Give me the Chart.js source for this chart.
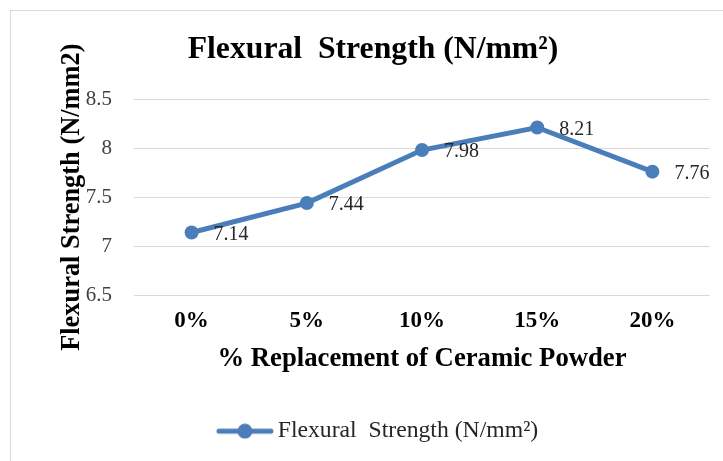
<!DOCTYPE html>
<html><head><meta charset="utf-8">
<script src="https://cdn.jsdelivr.net/npm/chart.js@4/dist/chart.umd.min.js"></script>
<style>
html,body{margin:0;padding:0;background:#fff;}
#wrap{position:relative;width:723px;height:461px;overflow:hidden;}
#frame{position:absolute;left:10px;top:10px;width:760px;height:500px;border:1px solid #d9d9d9;box-sizing:border-box;}
canvas{position:absolute;left:0;top:0;}
</style></head>
<body><div id="wrap"><div id="frame"></div><canvas id="c" width="723" height="461"></canvas></div>
<script>
const categories = ['0%', '5%', '10%', '15%', '20%'];
const strengthValues = [7.14, 7.44, 7.98, 8.21, 7.76];
const yTicks = [6.5, 7, 7.5, 8, 8.5];
const chartTitle = 'Flexural  Strength (N/mm²)';
const seriesName = 'Flexural  Strength (N/mm²)';
const xTitle = '% Replacement of Ceramic Powder';
const yTitle = 'Flexural Strength (N/mm2)';

const BLUE = '#4a7ebb';
const SERIF = '"Liberation Serif", "Times New Roman", serif';

// legend marker: line with a dot (drawn in the right part of a wider image)
const mk = document.createElement('canvas');
mk.width = 76; mk.height = 16;
(function(){
  const g = mk.getContext('2d');
  g.strokeStyle = BLUE; g.lineWidth = 5; g.lineCap = 'round';
  g.beginPath(); g.moveTo(20,8); g.lineTo(72,8); g.stroke();
  g.fillStyle = BLUE; g.beginPath(); g.arc(46,8,7.5,0,Math.PI*2); g.fill();
})();

const dataLabels = {
  id: 'dataLabels',
  afterDatasetsDraw(chart) {
    const ctx = chart.ctx;
    const meta = chart.getDatasetMeta(0);
    ctx.save();
    ctx.font = '20px ' + SERIF;
    ctx.fillStyle = '#262626';
    ctx.textAlign = 'left';
    ctx.textBaseline = 'middle';
    meta.data.forEach((pt, i) => {
      ctx.fillText(String(chart.data.datasets[0].data[i]), pt.x + 22, pt.y + 2);
    });
    ctx.restore();
  }
};

new Chart(document.getElementById('c'), {
  type: 'line',
  data: {
    labels: categories,
    datasets: [{
      label: seriesName,
      data: strengthValues,
      borderColor: BLUE,
      backgroundColor: BLUE,
      borderWidth: 5,
      pointRadius: 7,
      pointHoverRadius: 7,
      pointBackgroundColor: BLUE,
      pointBorderWidth: 0,
      tension: 0,
      pointStyle: 'circle'
    }]
  },
  options: {
    responsive: false,
    animation: false,
    devicePixelRatio: 1,
    layout: { padding: { left: 36, right: 13, top: 10, bottom: 8 } },
    plugins: {
      title: {
        display: true, text: chartTitle, color: '#000',
        font: { family: SERIF, size: 31.7, weight: 'bold' },
        padding: { top: 21, bottom: 30 }
      },
      legend: {
        display: true, position: 'bottom',
        labels: {
          usePointStyle: true, pointStyleWidth: 58,
          color: '#262626', font: { family: SERIF, size: 23.7 },
          padding: 9,
          generateLabels(chart) {
            return [{ text: seriesName, pointStyle: mk, fillStyle: BLUE, strokeStyle: BLUE, lineWidth: 0, hidden: false, datasetIndex: 0, fontColor: '#262626' }];
          }
        }
      },
      tooltip: { enabled: false }
    },
    scales: {
      x: {
        offset: true,
        afterFit(axis) { axis.height = 115; },
        grid: { display: false, drawTicks: false },
        border: { display: false },
        ticks: { color: '#000', font: { family: SERIF, size: 23, weight: 'bold' }, padding: 12 },
        title: { display: true, text: xTitle, color: '#000', font: { family: SERIF, size: 26.7, weight: 'bold' }, padding: { top: 0, bottom: 35 } }
      },
      y: {
        min: 6.5, max: 8.5,
        afterBuildTicks(axis) { axis.ticks = yTicks.map(v => ({ value: v })); },
        afterFit(axis) { axis.width = 98; },
        grid: { color: '#d9d9d9', lineWidth: 1, drawTicks: false },
        border: { display: false },
        ticks: { color: '#404040', font: { family: SERIF, size: 21 }, padding: 22, callback: v => String(v) },
        title: { display: true, text: yTitle, color: '#000', font: { family: SERIF, size: 26.4, weight: 'bold' }, padding: { top: 20.4, bottom: 0 } }
      }
    }
  },
  plugins: [dataLabels]
});
</script></body></html>
